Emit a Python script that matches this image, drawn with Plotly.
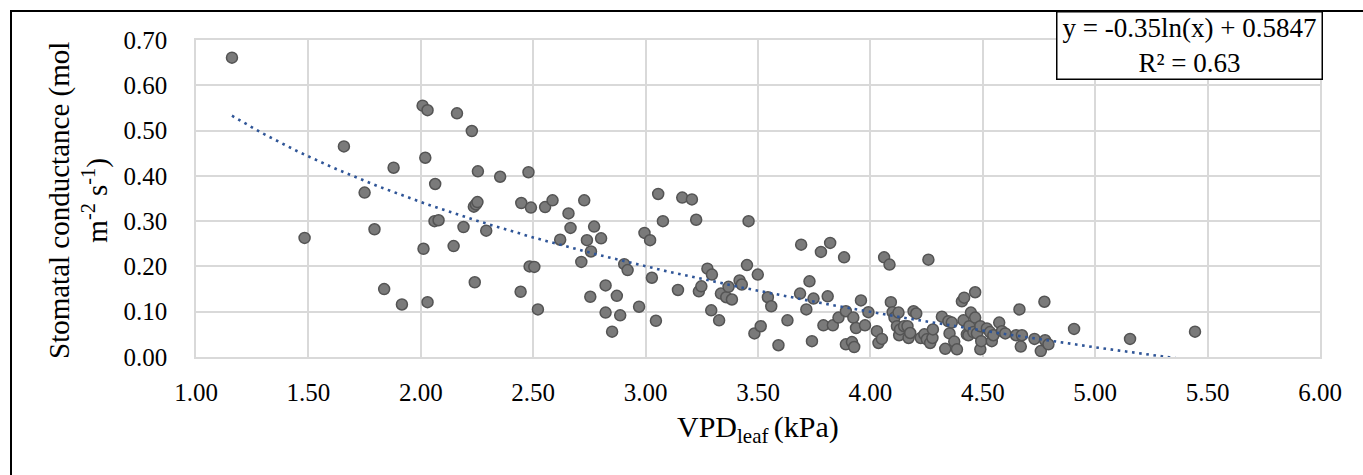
import numpy as np
import plotly.graph_objects as go

# ---- data ----
vpd_leaf = [
    1.160, 1.483, 1.658, 1.750, 1.794, 1.837, 1.879, 1.916, 2.008, 2.012,
    2.020, 2.030, 2.030, 2.064, 2.061, 2.079, 2.146, 2.161, 2.190, 2.227,
    2.240, 2.236, 2.245, 2.252, 2.254, 2.291, 2.353, 2.444, 2.447, 2.479,
    2.484, 2.490, 2.505, 2.521, 2.553, 2.586, 2.620, 2.657, 2.666, 2.714,
    2.727, 2.739, 2.754, 2.757, 2.771, 2.802, 2.822, 2.822, 2.851, 2.872,
    2.887, 2.905, 2.920, 2.971, 2.995, 3.020, 3.028, 3.046, 3.056, 3.077,
    3.144, 3.163, 3.206, 3.225, 3.237, 3.248, 3.275, 3.292, 3.295, 3.327,
    3.335, 3.359, 3.369, 3.384, 3.418, 3.428, 3.451, 3.458, 3.484, 3.499,
    3.512, 3.544, 3.559, 3.591, 3.631, 3.687, 3.692, 3.715, 3.729, 3.740,
    3.747, 3.780, 3.791, 3.810, 3.821, 3.833, 3.858, 3.883, 3.891, 3.891,
    3.918, 3.924, 3.928, 3.936, 3.958, 3.976, 3.991, 4.029, 4.036, 4.051,
    4.061, 4.085, 4.091, 4.099, 4.107, 4.118, 4.125, 4.128, 4.132, 4.150,
    4.165, 4.170, 4.177, 4.192, 4.204, 4.224, 4.240, 4.251, 4.258, 4.266,
    4.276, 4.278, 4.318, 4.333, 4.347, 4.352, 4.362, 4.373, 4.385, 4.407,
    4.414, 4.417, 4.429, 4.436, 4.440, 4.447, 4.458, 4.466, 4.466, 4.474,
    4.489, 4.489, 4.493, 4.518, 4.532, 4.540, 4.547, 4.573, 4.585, 4.600,
    4.648, 4.663, 4.669, 4.674, 4.730, 4.758, 4.774, 4.777, 4.792, 4.906,
    5.155, 5.444,
]
stomatal_conductance = [
    0.661, 0.263, 0.465, 0.363, 0.282, 0.150, 0.418, 0.116, 0.555, 0.239,
    0.440, 0.545, 0.121, 0.382, 0.300, 0.302, 0.245, 0.538, 0.287, 0.499,
    0.165, 0.332, 0.337, 0.342, 0.410, 0.279, 0.398, 0.144, 0.340, 0.408,
    0.200, 0.330, 0.199, 0.105, 0.331, 0.346, 0.259, 0.317, 0.285, 0.210,
    0.346, 0.258, 0.133, 0.233, 0.288, 0.262, 0.158, 0.098, 0.056, 0.135,
    0.092, 0.205, 0.192, 0.111, 0.274, 0.258, 0.175, 0.080, 0.360, 0.300,
    0.148, 0.352, 0.348, 0.303, 0.145, 0.156, 0.195, 0.103, 0.182, 0.081,
    0.140, 0.132, 0.155, 0.127, 0.169, 0.160, 0.203, 0.300, 0.052, 0.182,
    0.068, 0.132, 0.112, 0.026, 0.081, 0.140, 0.248, 0.105, 0.167, 0.035,
    0.129, 0.232, 0.070, 0.134, 0.252, 0.070, 0.087, 0.220, 0.101, 0.028,
    0.033, 0.087, 0.022, 0.064, 0.125, 0.070, 0.099, 0.057, 0.031, 0.040,
    0.220, 0.204, 0.121, 0.099, 0.087, 0.068, 0.098, 0.048, 0.061, 0.068,
    0.068, 0.042, 0.053, 0.101, 0.096, 0.042, 0.050, 0.039, 0.215, 0.031,
    0.042, 0.061, 0.089, 0.018, 0.079, 0.052, 0.076, 0.034, 0.017, 0.123,
    0.081, 0.131, 0.050, 0.048, 0.068, 0.098, 0.055, 0.143, 0.087, 0.052,
    0.068, 0.017, 0.035, 0.063, 0.055, 0.035, 0.048, 0.076, 0.057, 0.052,
    0.048, 0.105, 0.023, 0.048, 0.040, 0.013, 0.122, 0.037, 0.028, 0.062,
    0.040, 0.056,
]

# logarithmic trendline as given in the chart
trend_slope = -0.35
trend_intercept = 0.5847
trend_label = "y = -0.35ln(x) + 0.5847<br>R² = 0.63"

x_ticks = [1.0, 1.5, 2.0, 2.5, 3.0, 3.5, 4.0, 4.5, 5.0, 5.5, 6.0]
y_ticks = [0.0, 0.1, 0.2, 0.3, 0.4, 0.5, 0.6, 0.7]

FONT = "Liberation Serif, Times New Roman, serif"
GRID = "#d9d9d9"

tx = np.linspace(min(vpd_leaf), max(vpd_leaf), 300)
ty = trend_slope * np.log(tx) + trend_intercept

fig = go.Figure()
fig.add_trace(go.Scatter(
    x=vpd_leaf, y=stomatal_conductance, mode="markers",
    marker=dict(size=11, color="#7a7a7a", line=dict(color="#545454", width=1.5)),
    showlegend=False, cliponaxis=False,
))
fig.add_trace(go.Scatter(
    x=tx, y=ty, mode="lines",
    line=dict(color="#2f5597", width=2.6, dash="2.6px,4.6px"),
    showlegend=False,
))

L, R, T, B = 196, 43, 40, 118
W, H = 1363, 475
pw, ph = W - L - R, H - T - B

def px_to_paper_x(px):
    return (px - L) / pw

def px_to_paper_y(py):
    return (H - B - py) / ph

fig.update_layout(
    width=W, height=H,
    margin=dict(l=L, r=R, t=T, b=B),
    paper_bgcolor="white", plot_bgcolor="white",
    font=dict(family=FONT, color="black", size=25),
    xaxis=dict(
        range=[1, 6], tickvals=x_ticks, tickformat=".2f",
        showgrid=True, gridcolor=GRID, gridwidth=1.5,
        showline=True, linecolor=GRID, linewidth=1.5, mirror=True,
        ticks="outside", ticklen=12, tickcolor="rgba(0,0,0,0)",
        zeroline=False, tickfont=dict(size=25, family=FONT),
    ),
    yaxis=dict(
        range=[0, 0.7], tickvals=y_ticks, tickformat=".2f",
        showgrid=True, gridcolor=GRID, gridwidth=1.5,
        showline=True, linecolor=GRID, linewidth=1.5, mirror=True,
        ticks="outside", ticklen=22, tickcolor="rgba(0,0,0,0)",
        zeroline=False, tickfont=dict(size=25, family=FONT),
    ),
    shapes=[dict(
        type="rect", xref="paper", yref="paper",
        x0=px_to_paper_x(11), y0=px_to_paper_y(H + 20),
        x1=px_to_paper_x(W + 20), y1=px_to_paper_y(11),
        line=dict(color="black", width=2), fillcolor="rgba(0,0,0,0)",
        layer="above",
    )],
    annotations=[
        dict(
            text="Stomatal conductance (mol<br>m<sup>-2</sup> s<sup>-1</sup>)",
            xref="paper", yref="paper",
            x=px_to_paper_x(79), y=px_to_paper_y(201),
            xanchor="center", yanchor="middle", textangle=-90,
            showarrow=False, font=dict(size=29, family=FONT),
        ),
        dict(
            text="VPD<sub>leaf </sub>(kPa)",
            xref="paper", yref="paper",
            x=0.5, y=px_to_paper_y(429),
            xanchor="center", yanchor="middle",
            showarrow=False, font=dict(size=30, family=FONT),
        ),
        dict(
            text=trend_label,
            xref="paper", yref="paper",
            x=px_to_paper_x(1189.5), y=px_to_paper_y(45),
            xanchor="center", yanchor="middle",
            width=262, height=64, align="center",
            showarrow=False, font=dict(size=27, family=FONT),
            bgcolor="white", bordercolor="black", borderwidth=1.5, borderpad=1,
        ),
    ],
)

fig.write_html("out.html")
